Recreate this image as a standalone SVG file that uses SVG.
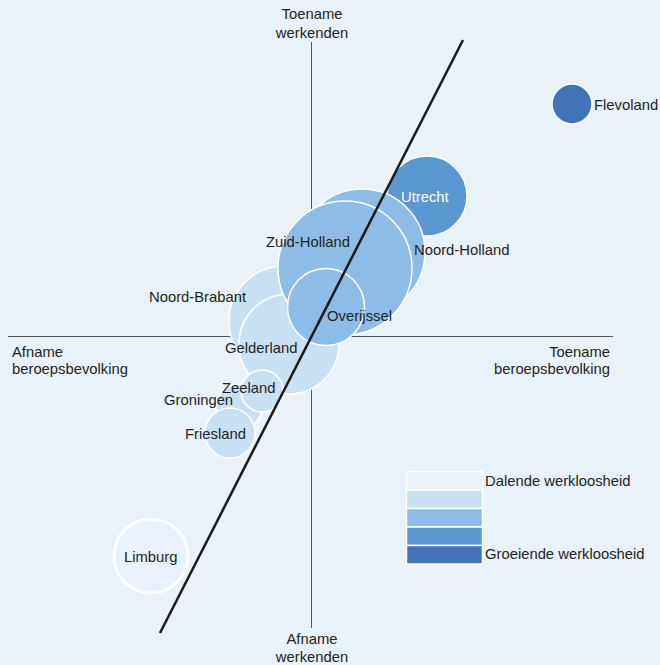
<svg xmlns="http://www.w3.org/2000/svg" width="660" height="665" viewBox="0 0 660 665">
<style>
text{font-family:"Liberation Sans",Arial,sans-serif;font-size:14.8px;fill:#231f20}
.b{stroke:#fff;stroke-width:1.5}
.c1{fill:#e9f2fb}.c2{fill:#c8e1f4}.c3{fill:#8dbde6}.c4{fill:#5b97d1}.c5{fill:#4272b8}
.ax{stroke:#555;stroke-width:1}
.mid{text-anchor:middle}.end{text-anchor:end}
</style>
<rect width="660" height="665" fill="#e9f1f9"/>
<g id="axes">
<line class="ax" x1="311.5" y1="42" x2="311.5" y2="628"/>
<line class="ax" x1="8" y1="336.5" x2="613" y2="336.5"/>
</g>
<g id="bubbles">
<g id="Limburg"><circle class="c1" cx="151" cy="556" r="37" stroke="#fff" stroke-width="3"/></g>
<g id="Flevoland"><circle class="c5 b" cx="572" cy="104" r="20"/></g>
<g id="Utrecht"><circle class="c4 b" cx="427" cy="196" r="40"/></g>
<g id="Noord-Holland"><circle class="c3 b" cx="362" cy="252" r="63"/></g>
<g id="Noord-Brabant"><circle class="c2 b" cx="284" cy="321" r="55"/></g>
<g id="Gelderland"><circle class="c2 b" cx="289" cy="344" r="50"/></g>
<g id="Zuid-Holland"><circle class="c3 b" cx="345" cy="268" r="67"/></g>
<g id="Overijssel"><circle class="c3 b" cx="326" cy="307" r="38.5"/></g>
<g id="Groningen"><circle class="c2 b" cx="239" cy="407" r="23"/></g>
<g id="Zeeland"><circle class="c2 b" cx="262" cy="391" r="21"/></g>
<g id="Friesland"><circle class="c2 b" cx="230" cy="433" r="25"/></g>
</g>
<g id="connectors">
<line x1="463" y1="40" x2="160" y2="633" stroke="#1a1a1a" stroke-width="2.5"/>
</g>
<g id="legend">
<rect class="c1 b" x="406.5" y="471.5" width="76" height="18.5"/>
<rect class="c2 b" x="406.5" y="490" width="76" height="18.5"/>
<rect class="c3 b" x="406.5" y="508.5" width="76" height="18.5"/>
<rect class="c4 b" x="406.5" y="527" width="76" height="18.5"/>
<rect class="c5 b" x="406.5" y="545.5" width="76" height="18.5"/>
<text x="485" y="486">Dalende werkloosheid</text>
<text x="485" y="559">Groeiende werkloosheid</text>
</g>
<g id="labels">
<text class="mid" x="312" y="19">Toename</text>
<text class="mid" x="312" y="38">werkenden</text>
<text class="mid" x="312" y="644">Afname</text>
<text class="mid" x="312" y="662">werkenden</text>
<text x="12" y="357">Afname</text>
<text x="12" y="374">beroepsbevolking</text>
<text class="end" x="610" y="357">Toename</text>
<text class="end" x="610" y="374">beroepsbevolking</text>
<text x="594" y="110">Flevoland</text>
<text x="401" y="202" style="fill:#fff">Utrecht</text>
<text x="414" y="255">Noord-Holland</text>
<text x="266" y="247">Zuid-Holland</text>
<text x="149" y="302">Noord-Brabant</text>
<text x="327" y="321">Overijssel</text>
<text x="225" y="353">Gelderland</text>
<text x="222" y="393">Zeeland</text>
<text x="164" y="405">Groningen</text>
<text x="185" y="439">Friesland</text>
<text x="124" y="562">Limburg</text>
</g>
</svg>
